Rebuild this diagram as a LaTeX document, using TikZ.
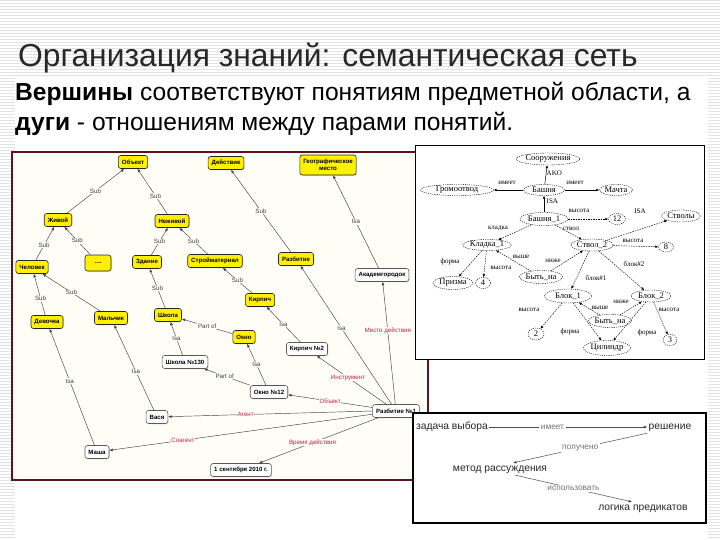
\documentclass[tikz,border=0pt]{standalone}
\usepackage{fontspec}
\setmainfont{Liberation Sans}
\newfontfamily\serifru{Liberation Serif}
\usetikzlibrary{shapes.geometric,arrows.meta,shadows,calc}
\definecolor{stripe}{RGB}{226,226,226}
\definecolor{frame}{RGB}{95,20,28}
\definecolor{ynode}{RGB}{255,240,0}
\definecolor{rel}{RGB}{190,30,70}
\definecolor{bgleft}{RGB}{255,254,246}
\definecolor{txt}{RGB}{40,40,40}
\begin{document}
\begin{tikzpicture}[x=1pt,y=-1pt,
  yn/.style={draw=black!85, fill=ynode, rounded corners=2.5pt, font=\fontsize{6.1}{7}\selectfont\bfseries, inner xsep=3.5pt, inner ysep=0pt, minimum height=13pt, line width=0.6pt, drop shadow={shadow xshift=0.8pt, shadow yshift=-0.8pt, fill=black!25}},
  wn/.style={yn, fill=white, draw=black!65},
  ed/.style={draw=black!75, line width=0.45pt, -{Latex[length=3.5pt,width=2.8pt]}},
  lb/.style={font=\fontsize{6.2}{7}\selectfont, fill=bgleft, inner sep=0.6pt, text=black!75},
  rl/.style={lb, text=rel},
  el/.style={ellipse, draw, dash pattern=on 1.2pt off 1pt, inner sep=0pt, font=\serifru\fontsize{8.5}{9}\selectfont, line width=0.4pt},
  re/.style={dash pattern=on 1.5pt off 1pt, line width=0.45pt, -{Latex[length=3pt,width=2.6pt]}},
  rs/.style={line width=0.5pt, -{Latex[length=3pt,width=2.6pt]}},
  rlb/.style={font=\serifru\fontsize{7}{8}\selectfont, inner sep=0.5pt},
  bt/.style={font=\fontsize{10.3}{11}\selectfont, text=txt, inner sep=1pt, text height=7.6pt, text depth=2.2pt},
  bl/.style={font=\fontsize{8.3}{9}\selectfont, text=black!55, fill=white, inner sep=1.5pt},
  be/.style={draw=black!70, line width=0.5pt, -{Latex[length=3.5pt,width=2.8pt]}}
]
\useasboundingbox (0,0) rectangle (720,540);
\fill[white] (0,0) rectangle (720,540);
\foreach \i in {0,...,180} \draw[stripe, line width=0.8pt] (0,3*\i) -- (720,3*\i);
\fill[white] (15,76) rectangle (708,540);

% title and text
\node[anchor=base west, font=\fontsize{31.8}{36}\selectfont, text=txt, inner sep=0] (title) at (18,67) {Организация знаний: семантическая сеть};
\node[anchor=base west, font=\fontsize{24.6}{28}\selectfont, inner sep=0] (sub1) at (15,101) {\textbf{Вершины} соответствуют понятиям предметной области, а};
\node[anchor=base west, font=\fontsize{24.6}{28}\selectfont, inner sep=0] (sub2) at (15,131) {\textbf{дуги} - отношениям между парами понятий.};

% ---------------- left diagram ----------------
\draw[frame, line width=1.2pt, fill=bgleft] (12,152) rectangle (428,480);

\node[yn] (obj) at (133,162) {Объект};
\node[yn] (dei) at (226,163) {Действие};
\node[yn, align=center, minimum height=20pt] (geo) at (328,165) {Географическое\\место};
\node[yn] (jiv) at (58,220) {Живой};
\node[yn] (nej) at (172,221) {Неживой};
\node[yn] (che) at (32,267) {Человек};
\node[yn, minimum width=26pt, minimum height=16pt] (dots) at (98,263) {....};
\node[yn] (zda) at (147,262) {Здание};
\node[yn] (str) at (215,261) {Стройматериал};
\node[yn] (raz) at (296,259) {Разбитие};
\node[wn] (aka) at (382,275) {Академгородок};
\node[yn] (kir) at (260,300) {Кирпич};
\node[yn] (dev) at (47,322) {Девочка};
\node[yn] (mal) at (111,318) {Мальчик};
\node[yn] (shk) at (168,315) {Школа};
\node[yn] (okn) at (244,337) {Окно};
\node[wn] (kir2) at (307,349) {Кирпич №2};
\node[wn] (shk130) at (185,362) {Школа №130};
\node[wn] (okn12) at (269,392) {Окно №12};
\node[wn] (raz1) at (396,411) {Разбитие №1};
\node[wn] (vas) at (157,417) {Вася};
\node[wn] (mas) at (97,452) {Маша};
\node[wn] (date) at (241,470) {1 сентября 2010 г.};

\draw[ed] (jiv) -- node[lb] {Sub} (obj);
\draw[ed] (nej) -- node[lb, pos=0.4] {Sub} (obj);
\draw[ed] (che) -- node[lb, pos=0.45] {Sub} (jiv);
\draw[ed] (dots) -- node[lb] {Sub} (jiv);
\draw[ed] (zda) -- node[lb] {Sub} (nej);
\draw[ed] (str) -- node[lb] {Sub} (nej);
\draw[ed] (dev) -- node[lb, pos=0.4] {Sub} (che);
\draw[ed] (mal) -- node[lb] {Sub} (che);
\draw[ed] (shk) -- node[lb] {Sub} (zda);
\draw[ed] (kir) -- node[lb] {Sub} (str);
\draw[ed] (raz) -- node[lb] {Sub} (dei);
\draw[ed] (aka) -- node[lb] {Isa} (geo);
\draw[ed] (okn) -- node[lb] {Part of} (shk);
\draw[ed] (shk130) -- node[lb] {Isa} (shk);
\draw[ed] (okn12) -- node[lb] {Isa} (okn);
\draw[ed] (okn12) -- node[lb, pos=0.55] {Part of} (shk130);
\draw[ed] (kir2) -- node[lb] {Isa} (kir);
\draw[ed] (raz1) -- node[lb, pos=0.55] {Isa} (raz);
\draw[ed] (raz1) -- node[rl, pos=0.6] {Место действия} (aka);
\draw[ed] (raz1) -- node[rl, pos=0.55] {Инструмент} (kir2);
\draw[ed] (raz1) -- node[rl] {Объект} (okn12);
\draw[ed] (raz1.west) -- node[rl, pos=0.62] {Агент} (vas);
\draw[ed] (raz1) -- node[rl, pos=0.72] {Соагент} (mas);
\draw[ed] (raz1) -- node[rl, pos=0.55] {Время действия} (date);
\draw[ed] (vas) -- node[lb, pos=0.45] {Isa} (mal);
\draw[ed] (mas) -- node[lb, pos=0.55] {Isa} (dev);

% ---------------- right top diagram ----------------
\draw[fill=white, line width=0.8pt] (415,145) rectangle (704,359);
\node[el, minimum width=58pt, minimum height=12pt] (soor) at (548,159) {Сооружения};
\node[el, minimum width=41pt, minimum height=11pt] (bash) at (544,190) {Башня};
\node[el, minimum width=73pt, minimum height=11pt] (grom) at (457,190) {Громоотвод};
\node[el, minimum width=33pt, minimum height=11pt] (mach) at (616,190) {Мачта};
\node[el, minimum width=48pt, minimum height=13pt] (b1) at (544,219) {Башня\_1};
\node[el, minimum width=17pt, minimum height=11pt] (n12) at (617,219) {12};
\node[el, minimum width=34pt, minimum height=12pt] (sten) at (681,216) {Стволы};
\node[el, minimum width=41pt, minimum height=11pt] (kl1) at (487,245) {Кладка\_1};
\node[el, minimum width=41pt, minimum height=12pt] (st2) at (592,245) {Ствол\_2};
\node[el, minimum width=15pt, minimum height=10pt] (n8) at (666,247) {8};
\node[el, minimum width=40pt, minimum height=13pt] (priz) at (453,283) {Призма};
\node[el, minimum width=15pt, minimum height=11pt] (n4) at (483,283) {4};
\node[el, minimum width=43pt, minimum height=13pt] (bn1) at (541,277) {Быть\_на};
\node[el, minimum width=47pt, minimum height=14pt] (bl1) at (568,296) {Блок\_1};
\node[el, minimum width=40pt, minimum height=12pt] (bl2) at (651,296) {Блок\_2};
\node[el, minimum width=16pt, minimum height=12pt] (n2) at (536,334) {2};
\node[el, minimum width=42pt, minimum height=13pt] (bn2) at (610,321) {Быть\_на};
\node[el, minimum width=47pt, minimum height=15pt] (cyl) at (607,348) {Цилиндр};
\node[el, minimum width=14pt, minimum height=11pt] (n3) at (670,340) {3};

\draw[rs] (bash) -- (soor);
\draw[rs] (bash) -- (grom);
\draw[rs] (bash) -- (mach);
\draw[rs] (b1) -- (bash);
\draw[re] (b1) -- (n12);
\draw[re] (st2) -- (sten);
\draw[re] (b1) -- (kl1);
\draw[re] (b1) -- (st2);
\draw[re] (st2) -- (n8);
\draw[re] (kl1) -- (priz);
\draw[re] (kl1) -- (n4);
\draw[re] (bn1) -- (kl1);
\draw[re] (bn1) -- (st2);
\draw[re] (st2) -- (bl1);
\draw[re] (st2) -- (bl2);
\draw[re] (bl1) -- (n2);
\draw[re] (bn2) -- (bl1);
\draw[re] (bn2) -- (bl2);
\draw[re] (bl1) -- (cyl);
\draw[re] (bl2) -- (cyl);
\draw[re] (bl2) -- (n3);
\node[rlb, anchor=west] (l1) at (546,173) {AKO};
\node[rlb] (l2) at (507,183) {имеет};
\node[rlb] (l3) at (575,183) {имеет};
\node[rlb, anchor=west] (l4) at (546,201) {ISA};
\node[rlb] (l5) at (579,211) {высота};
\node[rlb] (l6) at (640,211) {ISA};
\node[rlb] (l7) at (498,229) {кладка};
\node[rlb] (l8) at (571,229) {ствол};
\node[rlb] (l9) at (633,241) {высота};
\node[rlb] (l10) at (450,262) {форма};
\node[rlb] (l11) at (501,268) {высота};
\node[rlb] (l12) at (521,257) {выше};
\node[rlb] (l13) at (553,261) {ниже};
\node[rlb] (l14) at (596,278) {блок\#1};
\node[rlb] (l15) at (634,264) {блок\#2};
\node[rlb] (l16) at (529,310) {высота};
\node[rlb] (l17) at (600,308) {выше};
\node[rlb] (l18) at (621,302) {ниже};
\node[rlb] (l19) at (570,332) {форма};
\node[rlb] (l20) at (647,333) {форма};
\node[rlb] (l21) at (669,310) {высота};

% ---------------- bottom right diagram ----------------
\draw[fill=white, line width=1.2pt] (413,413) rectangle (706,523);
\node[bt] (zad) at (452,427) {задача выбора};
\node[bt] (res) at (670,427) {решение};
\node[bt] (met) at (500,469) {метод рассуждения};
\node[bt] (log) at (643,508) {логика предикатов};
\draw[be] (zad) -- node[bl, pos=0.4] {имеет} (res);
\draw[be] (res.south west) -- node[bl] {получено} ($(met.north)+(13,0)$);
\draw[be] ($(met.south)+(15,0)$) -- node[bl] {использовать} ($(log.north)+(-11,0)$);
\end{tikzpicture}
\end{document}
